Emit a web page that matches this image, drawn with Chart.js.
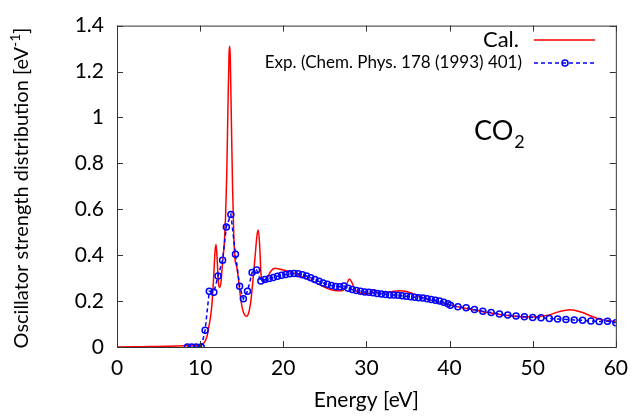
<!DOCTYPE html>
<html>
<head>
<meta charset="utf-8">
<script src="https://cdn.jsdelivr.net/npm/chart.js@4.4.0/dist/chart.umd.min.js"></script>
<style>
  html, body { margin: 0; padding: 0; background: #fff; }
</style>
</head>
<body>
<canvas id="myChart" width="637" height="419"></canvas>
<script>
// calculo (linea roja)
const calE = [0, 2, 4, 6, 8, 9, 9.5, 10, 10.3, 10.6, 10.85, 11.05, 11.25, 11.45, 11.65, 11.8, 11.92, 12.05, 12.2, 12.35,
  12.5, 12.7, 12.9, 13.05, 13.2, 13.35, 13.48, 13.55, 13.62, 13.75, 13.9, 14.05, 14.2, 14.4, 14.6, 14.85, 15.1, 15.35,
  15.6, 15.85, 16.1, 16.35, 16.6, 16.85, 17.0, 17.15, 17.3, 17.45, 17.7, 18.0, 18.5, 19.0, 19.5, 20.0, 21.0, 22.0, 23.0,
  24.0, 25.0, 25.5, 26.0, 26.5, 27.0, 27.4, 27.7, 27.95, 28.2, 28.5, 28.8, 29.2, 29.6, 30.0, 30.5, 30.8, 31.0, 31.2,
  31.6, 32.0, 32.6, 33.3, 34.0, 34.7, 35.3, 36.0, 37.0, 38.0, 39.0, 40.0, 41.0, 42.0, 43.0, 44.0, 45.0, 46.0, 47.0,
  48.0, 49.0, 50.0, 51.0, 52.0, 53.0, 54.0, 54.5, 55.0, 56.0, 57.0, 58.0, 59.0, 60.0];
const calF = [0, 0.001, 0.002, 0.003, 0.005, 0.006, 0.007, 0.01, 0.013, 0.025, 0.05, 0.09, 0.13, 0.2, 0.32, 0.42, 0.447, 0.38, 0.28, 0.26,
  0.28, 0.37, 0.45, 0.56, 0.75, 1.05, 1.28, 1.31, 1.27, 1.0, 0.7, 0.48, 0.38, 0.35, 0.3, 0.22, 0.165, 0.14,
  0.134, 0.15, 0.2, 0.29, 0.39, 0.49, 0.51, 0.45, 0.33, 0.29, 0.285, 0.296, 0.33, 0.343, 0.34, 0.335, 0.325, 0.31, 0.295,
  0.278, 0.26, 0.252, 0.247, 0.245, 0.245, 0.255, 0.28, 0.296, 0.285, 0.26, 0.243, 0.236, 0.232, 0.232, 0.235, 0.245, 0.249, 0.24,
  0.234, 0.234, 0.238, 0.243, 0.245, 0.243, 0.236, 0.226, 0.213, 0.203, 0.193, 0.183, 0.175, 0.168, 0.161, 0.154, 0.148, 0.142, 0.137,
  0.133, 0.131, 0.131, 0.134, 0.14, 0.152, 0.16, 0.162, 0.16, 0.15, 0.135, 0.122, 0.115, 0.11];

// experimento (circulos azules)
const expE = [8.47, 8.99, 9.54, 10.13, 10.6, 11.1, 11.65, 12.15, 12.7, 13.15, 13.7, 14.25, 14.75, 15.2, 15.7, 16.25, 16.8, 17.3, 17.8,
  18.3, 18.8, 19.3, 19.8, 20.3, 20.8, 21.3, 21.8, 22.3, 22.8, 23.3, 23.8, 24.3, 24.8, 25.3, 25.8, 26.3, 26.8, 27.3, 27.8,
  28.3, 28.8, 29.3, 29.8, 30.3, 30.8, 31.3, 31.8, 32.3, 32.8, 33.3, 33.8, 34.3, 34.8, 35.3, 35.8, 36.3, 36.8, 37.3, 37.8,
  38.3, 38.8, 39.3, 39.8, 40.1, 41, 42, 43, 44, 45, 46, 47, 48, 49, 50, 51, 52, 53, 54, 55, 56, 57, 58, 59, 60];
const expF = [0, 0, 0, 0, 0.073, 0.243, 0.238, 0.309, 0.378, 0.523, 0.577, 0.404, 0.265, 0.21, 0.243, 0.325, 0.335, 0.288, 0.294,
  0.298, 0.303, 0.308, 0.312, 0.316, 0.319, 0.32, 0.319, 0.315, 0.309, 0.302, 0.294, 0.286, 0.279, 0.273, 0.268, 0.264, 0.262, 0.266, 0.256,
  0.25, 0.246, 0.243, 0.24, 0.238, 0.236, 0.233, 0.231, 0.229, 0.227, 0.226, 0.225, 0.223, 0.221, 0.219, 0.217, 0.215, 0.213, 0.21, 0.207,
  0.204, 0.2, 0.195, 0.188, 0.182, 0.175, 0.171, 0.163, 0.156, 0.15, 0.144, 0.139, 0.135, 0.132, 0.129, 0.127, 0.124, 0.122, 0.12, 0.118, 0.116, 0.113, 0.111, 0.112, 0.106];

const xTicks = [0, 10, 20, 30, 40, 50, 60];
const yTicks = [0, 0.2, 0.4, 0.6, 0.8, 1, 1.2, 1.4];
const yLabels = ['0', '0.2', '0.4', '0.6', '0.8', '1', '1.2', '1.4'];

const fuente = "Lato, 'Open Sans', sans-serif";
const grafica = document.getElementById('myChart').getContext('2d');

// marco, ticks hacia adentro, titulos y leyenda al estilo gnuplot
const marcoPlugin = {
  id: 'marco',
  afterDraw(chart) {
    const ctx = chart.ctx;
    const a = chart.chartArea;
    const sx = chart.scales.x, sy = chart.scales.y;
    ctx.save();
    ctx.strokeStyle = '#333';
    ctx.lineWidth = 1;
    ctx.strokeRect(a.left + 0.5, a.top + 0.5, a.right - a.left, a.bottom - a.top);
    ctx.beginPath();
    for (const v of xTicks) {
      const px = Math.round(sx.getPixelForValue(v)) + 0.5;
      ctx.moveTo(px, a.bottom); ctx.lineTo(px, a.bottom - 6);
      ctx.moveTo(px, a.top); ctx.lineTo(px, a.top + 6);
    }
    for (const v of yTicks) {
      const py = Math.round(sy.getPixelForValue(v)) + 0.5;
      ctx.moveTo(a.left, py); ctx.lineTo(a.left + 6, py);
      ctx.moveTo(a.right, py); ctx.lineTo(a.right - 6, py);
    }
    ctx.stroke();

    ctx.fillStyle = '#000';
    // titulo eje x
    ctx.font = '21px ' + fuente;
    ctx.textAlign = 'center';
    ctx.textBaseline = 'alphabetic';
    ctx.fillText('Energy [eV]', (a.left + a.right) / 2, 407);

    // titulo eje y con superindice
    ctx.save();
    ctx.translate(28, 188);
    ctx.rotate(-Math.PI / 2);
    const t1 = 'Oscillator strength distribution [eV', t2 = '-1', t3 = ']';
    ctx.font = '20px ' + fuente;
    const w1 = ctx.measureText(t1).width, w3 = ctx.measureText(t3).width;
    ctx.font = '14px ' + fuente;
    const w2 = ctx.measureText(t2).width;
    let x0 = -(w1 + w2 + w3) / 2;
    ctx.textAlign = 'left';
    ctx.font = '20px ' + fuente;
    ctx.fillText(t1, x0, 0);
    ctx.font = '14px ' + fuente;
    ctx.fillText(t2, x0 + w1, -8);
    ctx.font = '20px ' + fuente;
    ctx.fillText(t3, x0 + w1 + w2, 0);
    ctx.restore();

    // leyenda
    ctx.textAlign = 'right';
    ctx.textBaseline = 'middle';
    ctx.font = '22px ' + fuente;
    ctx.fillText('Cal.', 519, 40);
    ctx.font = '17px ' + fuente;
    ctx.fillText('Exp. (Chem. Phys. 178 (1993) 401)', 522, 63);
    ctx.strokeStyle = '#ff0000';
    ctx.lineWidth = 1.5;
    ctx.beginPath(); ctx.moveTo(534, 40); ctx.lineTo(595, 40); ctx.stroke();
    ctx.strokeStyle = '#0000ff';
    ctx.setLineDash([4, 3]);
    ctx.beginPath(); ctx.moveTo(534, 63); ctx.lineTo(595, 63); ctx.stroke();
    ctx.setLineDash([]);
    ctx.beginPath(); ctx.arc(565, 63, 3, 0, Math.PI * 2); ctx.stroke();

    // CO2
    ctx.fillStyle = '#000';
    ctx.textAlign = 'left';
    ctx.textBaseline = 'alphabetic';
    ctx.font = '27px ' + fuente;
    ctx.fillText('CO', 474, 140);
    const wco = ctx.measureText('CO').width;
    ctx.font = '18px ' + fuente;
    ctx.fillText('2', 474 + wco + 1, 148);
    ctx.restore();
  }
};

const myChart = new Chart(grafica, {
  type: 'line',
  data: {
    datasets: [
      {
        label: 'Cal.',
        data: calE.map((e, i) => ({ x: e, y: calF[i] })),
        borderColor: '#ff0000',
        borderWidth: 1.5,
        pointRadius: 0,
        fill: false,
        cubicInterpolationMode: 'monotone',
        order: 2
      },
      {
        label: 'Exp. (Chem. Phys. 178 (1993) 401)',
        data: expE.map((e, i) => ({ x: e, y: expF[i] })),
        borderColor: '#0000ff',
        borderWidth: 1.5,
        borderDash: [4, 3],
        pointRadius: 3,
        pointBorderWidth: 1.5,
        pointBorderColor: '#0000ff',
        pointBackgroundColor: 'rgba(0,0,0,0)',
        fill: false,
        tension: 0,
        order: 1
      }
    ]
  },
  options: {
    responsive: false,
    animation: false,
    layout: { padding: { top: 22, right: 15, left: 0, bottom: 0 } },
    plugins: { legend: { display: false }, tooltip: { enabled: false } },
    scales: {
      x: {
        type: 'linear',
        min: 0, max: 60,
        grid: { display: false, drawTicks: false },
        border: { display: false },
        afterFit: (s) => { s.height = 72; },
        afterBuildTicks: (s) => { s.ticks = xTicks.map(v => ({ value: v })); },
        ticks: { color: '#000', padding: 9, font: { size: 21, family: fuente } }
      },
      y: {
        min: 0, max: 1.4,
        grid: { display: false, drawTicks: false },
        border: { display: false },
        afterFit: (s) => { s.width = 117; },
        afterBuildTicks: (s) => { s.ticks = yTicks.map(v => ({ value: v })); },
        ticks: {
          color: '#000', padding: 13, font: { size: 21, family: fuente },
          callback: (v, i) => yLabels[i]
        }
      }
    }
  },
  plugins: [marcoPlugin]
});
</script>
</body>
</html>
